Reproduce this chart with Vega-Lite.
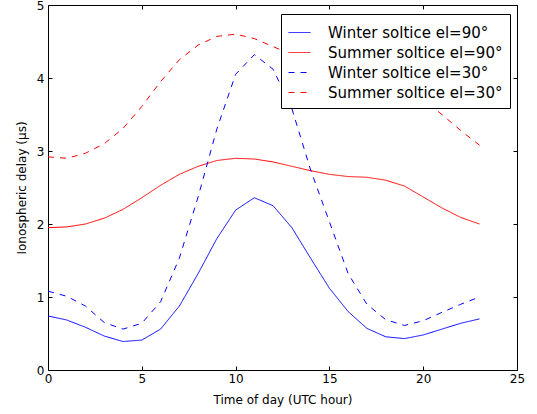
{
  "$schema": "https://vega.github.io/schema/vega-lite/v6.json",
  "autosize": {"type": "none"},
  "padding": {"left": 48, "top": 5, "right": 20, "bottom": 44},
  "width": 469,
  "height": 365,
  "background": "white",
  "config": {
    "font": "DejaVu Sans",
    "view": {"stroke": "black", "strokeWidth": 1},
    "axis": {
      "domain": false,
      "grid": false,
      "ticks": true,
      "tickSize": -4,
      "tickColor": "black",
      "tickWidth": 1,
      "labelFont": "DejaVu Sans",
      "labelFontSize": 12,
      "labelColor": "black",
      "titleFont": "DejaVu Sans",
      "titleFontSize": 12,
      "titleFontWeight": "normal",
      "titleColor": "black"
    },
    "legend": {
      "title": null,
      "orient": "none",
      "legendX": 233,
      "legendY": 9,
      "fillColor": "white",
      "strokeColor": "black",
      "padding": 7,
      "symbolType": "stroke",
      "symbolSize": 484,
      "symbolStrokeWidth": 1,
      "labelFont": "DejaVu Sans",
      "labelFontSize": 15,
      "labelColor": "black",
      "labelLimit": 0,
      "labelOffset": 17,
      "rowPadding": 0,
      "cornerRadius": 0
    }
  },
  "data": {
    "values": [
      {"hour": 0, "series": "Winter soltice el=90°", "delay": 0.74},
      {"hour": 1, "series": "Winter soltice el=90°", "delay": 0.685},
      {"hour": 2, "series": "Winter soltice el=90°", "delay": 0.585},
      {"hour": 3, "series": "Winter soltice el=90°", "delay": 0.465},
      {"hour": 4, "series": "Winter soltice el=90°", "delay": 0.39},
      {"hour": 5, "series": "Winter soltice el=90°", "delay": 0.41},
      {"hour": 6, "series": "Winter soltice el=90°", "delay": 0.56},
      {"hour": 7, "series": "Winter soltice el=90°", "delay": 0.875},
      {"hour": 8, "series": "Winter soltice el=90°", "delay": 1.32},
      {"hour": 9, "series": "Winter soltice el=90°", "delay": 1.8},
      {"hour": 10, "series": "Winter soltice el=90°", "delay": 2.19},
      {"hour": 11, "series": "Winter soltice el=90°", "delay": 2.36},
      {"hour": 12, "series": "Winter soltice el=90°", "delay": 2.25},
      {"hour": 13, "series": "Winter soltice el=90°", "delay": 1.95},
      {"hour": 14, "series": "Winter soltice el=90°", "delay": 1.53},
      {"hour": 15, "series": "Winter soltice el=90°", "delay": 1.12},
      {"hour": 16, "series": "Winter soltice el=90°", "delay": 0.8},
      {"hour": 17, "series": "Winter soltice el=90°", "delay": 0.57},
      {"hour": 18, "series": "Winter soltice el=90°", "delay": 0.455},
      {"hour": 19, "series": "Winter soltice el=90°", "delay": 0.43},
      {"hour": 20, "series": "Winter soltice el=90°", "delay": 0.48},
      {"hour": 21, "series": "Winter soltice el=90°", "delay": 0.56},
      {"hour": 22, "series": "Winter soltice el=90°", "delay": 0.64},
      {"hour": 23, "series": "Winter soltice el=90°", "delay": 0.7},

      {"hour": 0, "series": "Summer soltice el=90°", "delay": 1.95},
      {"hour": 1, "series": "Summer soltice el=90°", "delay": 1.96},
      {"hour": 2, "series": "Summer soltice el=90°", "delay": 2.0},
      {"hour": 3, "series": "Summer soltice el=90°", "delay": 2.08},
      {"hour": 4, "series": "Summer soltice el=90°", "delay": 2.2},
      {"hour": 5, "series": "Summer soltice el=90°", "delay": 2.36},
      {"hour": 6, "series": "Summer soltice el=90°", "delay": 2.53},
      {"hour": 7, "series": "Summer soltice el=90°", "delay": 2.68},
      {"hour": 8, "series": "Summer soltice el=90°", "delay": 2.79},
      {"hour": 9, "series": "Summer soltice el=90°", "delay": 2.87},
      {"hour": 10, "series": "Summer soltice el=90°", "delay": 2.9},
      {"hour": 11, "series": "Summer soltice el=90°", "delay": 2.89},
      {"hour": 12, "series": "Summer soltice el=90°", "delay": 2.85},
      {"hour": 13, "series": "Summer soltice el=90°", "delay": 2.79},
      {"hour": 14, "series": "Summer soltice el=90°", "delay": 2.73},
      {"hour": 15, "series": "Summer soltice el=90°", "delay": 2.68},
      {"hour": 16, "series": "Summer soltice el=90°", "delay": 2.65},
      {"hour": 17, "series": "Summer soltice el=90°", "delay": 2.64},
      {"hour": 18, "series": "Summer soltice el=90°", "delay": 2.6},
      {"hour": 19, "series": "Summer soltice el=90°", "delay": 2.52},
      {"hour": 20, "series": "Summer soltice el=90°", "delay": 2.37},
      {"hour": 21, "series": "Summer soltice el=90°", "delay": 2.22},
      {"hour": 22, "series": "Summer soltice el=90°", "delay": 2.09},
      {"hour": 23, "series": "Summer soltice el=90°", "delay": 2.0},

      {"hour": 0, "series": "Winter soltice el=30°", "delay": 1.08},
      {"hour": 1, "series": "Winter soltice el=30°", "delay": 1.01},
      {"hour": 2, "series": "Winter soltice el=30°", "delay": 0.875},
      {"hour": 3, "series": "Winter soltice el=30°", "delay": 0.65},
      {"hour": 4, "series": "Winter soltice el=30°", "delay": 0.56},
      {"hour": 5, "series": "Winter soltice el=30°", "delay": 0.64},
      {"hour": 6, "series": "Winter soltice el=30°", "delay": 0.935},
      {"hour": 7, "series": "Winter soltice el=30°", "delay": 1.53},
      {"hour": 8, "series": "Winter soltice el=30°", "delay": 2.37},
      {"hour": 9, "series": "Winter soltice el=30°", "delay": 3.3},
      {"hour": 10, "series": "Winter soltice el=30°", "delay": 4.05},
      {"hour": 11, "series": "Winter soltice el=30°", "delay": 4.32},
      {"hour": 12, "series": "Winter soltice el=30°", "delay": 4.12},
      {"hour": 13, "series": "Winter soltice el=30°", "delay": 3.58},
      {"hour": 14, "series": "Winter soltice el=30°", "delay": 2.74},
      {"hour": 15, "series": "Winter soltice el=30°", "delay": 2.03},
      {"hour": 16, "series": "Winter soltice el=30°", "delay": 1.32},
      {"hour": 17, "series": "Winter soltice el=30°", "delay": 0.9},
      {"hour": 18, "series": "Winter soltice el=30°", "delay": 0.69},
      {"hour": 19, "series": "Winter soltice el=30°", "delay": 0.61},
      {"hour": 20, "series": "Winter soltice el=30°", "delay": 0.675},
      {"hour": 21, "series": "Winter soltice el=30°", "delay": 0.79},
      {"hour": 22, "series": "Winter soltice el=30°", "delay": 0.9},
      {"hour": 23, "series": "Winter soltice el=30°", "delay": 1.0},

      {"hour": 0, "series": "Summer soltice el=30°", "delay": 2.92},
      {"hour": 1, "series": "Summer soltice el=30°", "delay": 2.9},
      {"hour": 2, "series": "Summer soltice el=30°", "delay": 2.97},
      {"hour": 3, "series": "Summer soltice el=30°", "delay": 3.1},
      {"hour": 4, "series": "Summer soltice el=30°", "delay": 3.31},
      {"hour": 5, "series": "Summer soltice el=30°", "delay": 3.61},
      {"hour": 6, "series": "Summer soltice el=30°", "delay": 3.95},
      {"hour": 7, "series": "Summer soltice el=30°", "delay": 4.25},
      {"hour": 8, "series": "Summer soltice el=30°", "delay": 4.45},
      {"hour": 9, "series": "Summer soltice el=30°", "delay": 4.57},
      {"hour": 10, "series": "Summer soltice el=30°", "delay": 4.6},
      {"hour": 11, "series": "Summer soltice el=30°", "delay": 4.54},
      {"hour": 12, "series": "Summer soltice el=30°", "delay": 4.43},
      {"hour": 13, "series": "Summer soltice el=30°", "delay": 4.32},
      {"hour": 14, "series": "Summer soltice el=30°", "delay": 4.23},
      {"hour": 15, "series": "Summer soltice el=30°", "delay": 4.15},
      {"hour": 16, "series": "Summer soltice el=30°", "delay": 4.11},
      {"hour": 17, "series": "Summer soltice el=30°", "delay": 4.09},
      {"hour": 18, "series": "Summer soltice el=30°", "delay": 4.03},
      {"hour": 19, "series": "Summer soltice el=30°", "delay": 3.91},
      {"hour": 20, "series": "Summer soltice el=30°", "delay": 3.7},
      {"hour": 21, "series": "Summer soltice el=30°", "delay": 3.5},
      {"hour": 22, "series": "Summer soltice el=30°", "delay": 3.28},
      {"hour": 23, "series": "Summer soltice el=30°", "delay": 3.08}
    ]
  },
  "layer": [
    {
      "mark": {"type": "line", "strokeWidth": 1, "clip": true},
      "encoding": {
        "x": {
          "field": "hour",
          "type": "quantitative",
          "scale": {"domain": [0, 25], "nice": false, "zero": false},
          "axis": {
            "orient": "bottom",
            "values": [0, 5, 10, 15, 20, 25],
            "title": "Time of day (UTC hour)",
            "labelPadding": 7,
            "titlePadding": 10,
            "labelFlush": false
          }
        },
        "y": {
          "field": "delay",
          "type": "quantitative",
          "scale": {"domain": [0, 5], "nice": false},
          "axis": {
            "orient": "left",
            "values": [0, 1, 2, 3, 4, 5],
            "title": "Ionospheric delay (μs)",
            "labelPadding": 8,
            "titlePadding": 8,
            "labelFlush": false
          }
        },
        "color": {
          "field": "series",
          "type": "nominal",
          "sort": null,
          "scale": {
            "domain": ["Winter soltice el=90°", "Summer soltice el=90°", "Winter soltice el=30°", "Summer soltice el=30°"],
            "range": ["#0000ff", "#ff0000", "#0000ff", "#ff0000"]
          }
        },
        "strokeDash": {
          "field": "series",
          "type": "nominal",
          "sort": null,
          "scale": {
            "domain": ["Winter soltice el=90°", "Summer soltice el=90°", "Winter soltice el=30°", "Summer soltice el=30°"],
            "range": [[1, 0], [1, 0], [6, 6], [6, 6]]
          }
        }
      }
    },
    {
      "mark": {"type": "line", "strokeWidth": 0, "opacity": 0},
      "encoding": {
        "x": {
          "field": "hour",
          "type": "quantitative",
          "scale": {"domain": [0, 25], "nice": false, "zero": false},
          "axis": {"orient": "top", "values": [0, 5, 10, 15, 20, 25], "labels": false, "title": null}
        },
        "y": {
          "field": "delay",
          "type": "quantitative",
          "scale": {"domain": [0, 5], "nice": false},
          "axis": {"orient": "right", "values": [0, 1, 2, 3, 4, 5], "labels": false, "title": null}
        },
        "detail": {"field": "series"}
      }
    }
  ],
  "resolve": {"axis": {"x": "independent", "y": "independent"}}
}
